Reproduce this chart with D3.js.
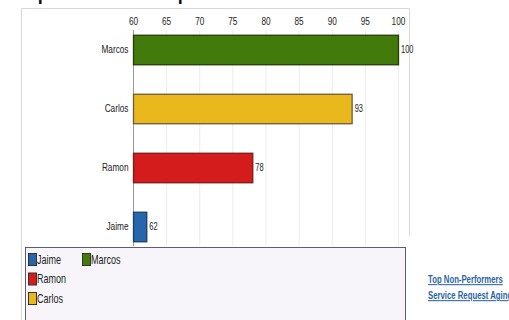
<!DOCTYPE html>
<meta charset="utf-8">
<style>
body { margin: 0; background: #fff; }
svg { display: block; }
.chart text { font-family: "Liberation Sans", Arial, sans-serif; fill: #222; }
.links text { fill: #2a64a8; font-weight: bold; font-size: 10.5px; text-decoration: underline; }
</style>
<svg class="chart" width="509" height="320"></svg>
<script src="https://cdn.jsdelivr.net/npm/d3@7"></script>
<script>

let categories = ["Marcos", "Carlos", "Ramon", "Jaime"],
    values = [100, 93, 78, 62],
    colors = ["#437a0c", "#e8b81c", "#d41c1c", "#2566ad"],
    strokes = ["#223d06", "#6b5a3e", "#7a1a1a", "#1a3d66"],
    ticks = [60, 65, 70, 75, 80, 85, 90, 95, 100],
    legendOrder = ["Jaime", "Ramon", "Carlos", "Marcos"];

// the original uses a narrow font, squeeze text horizontally
let narrow = 0.75;

let svg = d3.select(".chart");

// page title, mostly scrolled off the top
svg.append("text")
    .attr("x", 17)
    .attr("y", 0)
    .style("font-weight", "bold")
    .style("font-size", "18px")
    .style("fill", "#111")
    .text("Top Performers Report");

// panel frame
svg.append("path")
    .attr("d", "M21.5,320V8.5H409.5V236")
    .attr("fill", "none")
    .attr("stroke", "#d8d8d8");

let x = d3.scaleLinear()
    .domain([60, 100])
    .range([133, 398]);

let y = d3.scaleBand()
    .domain(categories)
    .range([20, 256])
    .paddingInner(0.5)
    .paddingOuter(0.25);

// grid
svg.append("g")
  .selectAll("line")
    .data(ticks.slice(1))
  .enter().append("line")
    .attr("x1", d => x(d) + 0.5)
    .attr("x2", d => x(d) + 0.5)
    .attr("y1", 30)
    .attr("y2", 246)
    .attr("stroke", "#ececec");

let xAxis = svg.append("g")
    .attr("transform", "translate(0,29)")
    .call(d3.axisTop(x).tickValues(ticks).tickSize(0).tickPadding(4));
xAxis.select(".domain").remove();
xAxis.selectAll("text")
    .style("font-family", null)
    .style("font-size", "11px")
    .attr("fill", "#222")
    .attr("transform", "scale(" + narrow + ",1)");

let yAxis = svg.append("g")
    .attr("transform", "translate(133,0)")
    .call(d3.axisLeft(y).tickSize(0).tickPadding(6));
yAxis.select(".domain")
    .attr("d", "M0.5,30V246")
    .attr("stroke", "#999");
yAxis.selectAll("text")
    .style("font-family", null)
    .style("font-size", "11px")
    .attr("fill", "#222")
    .attr("transform", "scale(" + narrow + ",1)");

let bar = svg.append("g")
  .selectAll("g")
    .data(categories)
  .enter().append("g");

bar.append("rect")
    .attr("x", x(60) + 0.5)
    .attr("y", d => y(d) + 0.5)
    .attr("width", (d, i) => x(values[i]) - x(60))
    .attr("height", y.bandwidth())
    .attr("fill", (d, i) => colors[i])
    .attr("stroke", (d, i) => strokes[i])
    .attr("stroke-width", 1.3);

bar.append("text")
    .attr("transform", (d, i) => "translate(" + (x(values[i]) + 3) + "," + (y(d) + y.bandwidth() / 2) + ") scale(" + narrow + ",1)")
    .attr("dy", ".35em")
    .style("font-size", "10px")
    .text((d, i) => values[i]);

// legend
let legend = svg.append("g");
legend.append("rect")
    .attr("x", 25.5)
    .attr("y", 247.5)
    .attr("width", 380)
    .attr("height", 80)
    .attr("fill", "#f7f5f9")
    .attr("stroke", "#5c5c78");

let item = legend.selectAll("g")
    .data(legendOrder)
  .enter().append("g")
    .attr("transform", (d, i) => "translate(" + (28 + Math.floor(i / 3) * 54) + "," + (253 + (i % 3) * 19.5) + ")");

item.append("rect")
    .attr("x", 0.5)
    .attr("y", 0.5)
    .attr("width", 8)
    .attr("height", 12)
    .attr("fill", d => colors[categories.indexOf(d)])
    .attr("stroke", "#333");

item.append("text")
    .attr("transform", "translate(9,6.5) scale(" + narrow + ",1)")
    .attr("dy", ".35em")
    .style("font-size", "12px")
    .text(d => d);

// side links
let links = svg.append("g").attr("class", "links");
links.append("text").attr("transform", "translate(428,283) scale(0.74,1)").text("Top Non-Performers");
links.append("text").attr("transform", "translate(428,299) scale(0.74,1)").text("Service Request Aging");

</script>
